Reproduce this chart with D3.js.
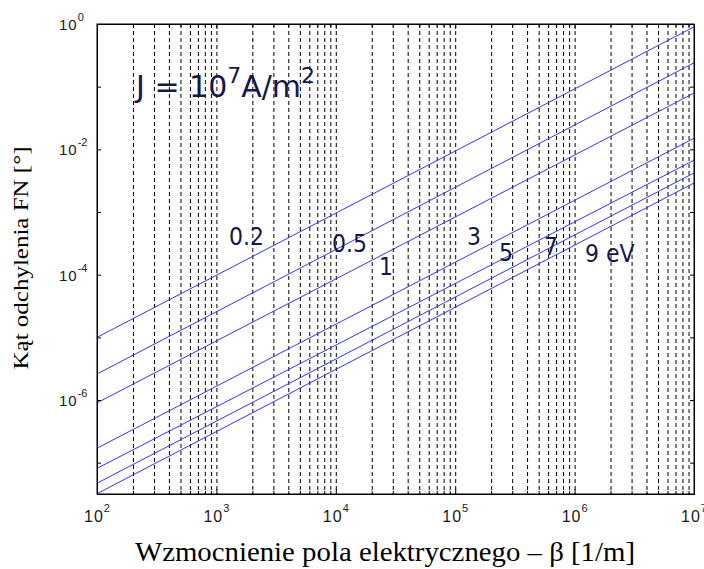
<!DOCTYPE html>
<html>
<head>
<meta charset="utf-8">
<script src="https://cdn.jsdelivr.net/npm/d3@7"></script>
<style>
  body { margin: 0; background: #fff; }
  svg { display: block; }
  .ax path, .ax line { stroke: #000; stroke-width: 1; }
  .grid path { display: none; }
  .grid line { stroke: #000; stroke-width: 1; stroke-dasharray: 4,3; }
</style>
</head>
<body>
<svg id="chart" width="704" height="569"></svg>
<script>
// electron energies (eV), one line each
const energies = ["0.2", "0.5", "1", "3", "5", "7", "9"];
// beta at the two ends of every line
const betaEnds = [1e2, 1e7];
// deflection angle at beta = 1e2 and at beta = 1e7
const thetaStart = [1.0e-5, 2.6e-6, 9.0e-7, 1.7e-7, 8.1e-8, 4.7e-8, 3.2e-8];
const thetaEnd = [0.9, 0.24, 0.079, 0.015, 6.7e-3, 4.2e-3, 2.9e-3];
// tick label exponents
const xTickExp = [2, 3, 4, 5, 6, 7];
const yTickExp = [0, -2, -4, -6];
// curve labels
const curveLabels = ["0.2", "0.5", "1", "3", "5", "7", "9 eV"];

// where the curve labels sit (pixels)
const curveLabelPos = [[229, 245], [332, 252], [379, 275], [467, 245], [499, 261], [544, 255], [585, 262]];

const plotL = 97, plotT = 24, plotR = 694, plotB = 494;
const iw = plotR - plotL, ih = plotB - plotT;

const svg = d3.select("#chart");
const g = svg.append("g").attr("transform", "translate(" + plotL + "," + plotT + ")");

const x = d3.scaleLog().domain([1e2, 1e7]).range([0, iw]);
const y = d3.scaleLog().domain([Math.pow(10, -7.5), 1]).range([ih, 0]);

// vertical dashed grid on every minor position
const gridVals = [];
for (let n = 2; n < 7; n++) {
  for (let k = 1; k <= 9; k++) {
    const v = k * Math.pow(10, n);
    if (v > 1e2 && v < 1e7) gridVals.push(v);
  }
}
g.append("g").attr("class", "grid")
  .call(d3.axisBottom(x).tickValues(gridVals).tickSize(ih).tickFormat(""));

// lines
g.append("clipPath").attr("id", "clip")
  .append("rect").attr("width", iw).attr("height", ih);

const line = d3.line().x(d => x(d[0])).y(d => y(d[1]));
g.append("g").attr("clip-path", "url(#clip)")
  .selectAll("path")
  .data(energies.map((e, i) => [[betaEnds[0], thetaStart[i]], [betaEnds[1], thetaEnd[i]]]))
  .enter()
  .append("path")
  .attr("d", line)
  .attr("fill", "none")
  .attr("stroke", "#3434ff")
  .attr("stroke-width", 1);

// ticks on all four sides, pointing in
const yDecades = d3.range(0, -8, -1).map(e => Math.pow(10, e));
const xDecades = xTickExp.map(e => Math.pow(10, e));
const xMinor = gridVals.filter(v => xDecades.indexOf(v) < 0);

g.append("g").attr("class", "ax")
  .call(d3.axisLeft(y).tickValues(yDecades).tickSize(-4).tickFormat(""));
g.append("g").attr("class", "ax").attr("transform", "translate(" + iw + ",0)")
  .call(d3.axisRight(y).tickValues(yDecades).tickSize(-4).tickFormat(""));
g.append("g").attr("class", "ax").attr("transform", "translate(0," + ih + ")")
  .call(d3.axisBottom(x).tickValues(xDecades).tickSize(-5).tickFormat(""));
g.append("g").attr("class", "ax").attr("transform", "translate(0," + ih + ")")
  .call(d3.axisBottom(x).tickValues(xMinor).tickSize(-3).tickFormat(""));
g.append("g").attr("class", "ax")
  .call(d3.axisTop(x).tickValues(xDecades).tickSize(-5).tickFormat(""));
g.append("g").attr("class", "ax")
  .call(d3.axisTop(x).tickValues(xMinor).tickSize(-3).tickFormat(""));

g.append("rect")
  .attr("width", iw).attr("height", ih)
  .attr("fill", "none").attr("stroke", "#000");

// tick labels 10^n
xTickExp.forEach(e => {
  const t = svg.append("text")
    .attr("x", plotL + x(Math.pow(10, e)))
    .attr("y", 522)
    .attr("text-anchor", "middle")
    .attr("font-family", "Liberation Sans, Arial, sans-serif")
    .attr("font-size", 16)
    .attr("letter-spacing", 1)
    .attr("fill", "#1a1a1a");
  t.append("tspan").text("10");
  t.append("tspan").attr("dy", -10).attr("font-size", 11).attr("letter-spacing", 0).text(e);
});

yTickExp.forEach(e => {
  const t = svg.append("text")
    .attr("x", 59)
    .attr("y", plotT + y(Math.pow(10, e)) + 6)
    .attr("font-family", "Liberation Sans, Arial, sans-serif")
    .attr("font-size", 15)
    .attr("letter-spacing", 1)
    .attr("fill", "#1a1a1a");
  t.append("tspan").text("10");
  t.append("tspan").attr("dy", -9).attr("font-size", 11).attr("letter-spacing", 0).text(e);
});

// curve labels
const navy = "#17174a";
curveLabels.forEach((s, i) => {
  svg.append("text")
    .attr("transform", "translate(" + curveLabelPos[i][0] + "," + curveLabelPos[i][1] + ") scale(1,1.12)")
    .attr("font-family", "DejaVu Sans, Verdana, sans-serif")
    .attr("font-size", 22)
    .attr("fill", navy)
    .text(s);
});

// current density note
const j = svg.append("text")
  .attr("x", 136).attr("y", 97)
  .attr("font-family", "DejaVu Sans, Verdana, sans-serif")
  .attr("font-size", 30)
  .attr("fill", navy);
j.append("tspan").text("J = 10");
j.append("tspan").attr("dy", -14).attr("font-size", 22).text("7");
j.append("tspan").attr("dy", 14).text("A/m");
j.append("tspan").attr("dy", -14).attr("font-size", 22).text("2");

// axis titles
svg.append("text")
  .attr("x", 385).attr("y", 561)
  .attr("text-anchor", "middle")
  .attr("font-family", "Liberation Serif, Times New Roman, serif")
  .attr("font-size", 27)
  .attr("textLength", 500)
  .attr("lengthAdjust", "spacingAndGlyphs")
  .attr("fill", "#000")
  .text("Wzmocnienie pola elektrycznego \u2013 \u03b2 [1/m]");

svg.append("text")
  .attr("transform", "translate(28,258) rotate(-90)")
  .attr("text-anchor", "middle")
  .attr("font-family", "Liberation Serif, Times New Roman, serif")
  .attr("font-size", 22)
  .attr("textLength", 223)
  .attr("lengthAdjust", "spacingAndGlyphs")
  .attr("fill", "#000")
  .text("K\u0105t odchylenia FN [\u00b0]");
</script>
</body>
</html>
